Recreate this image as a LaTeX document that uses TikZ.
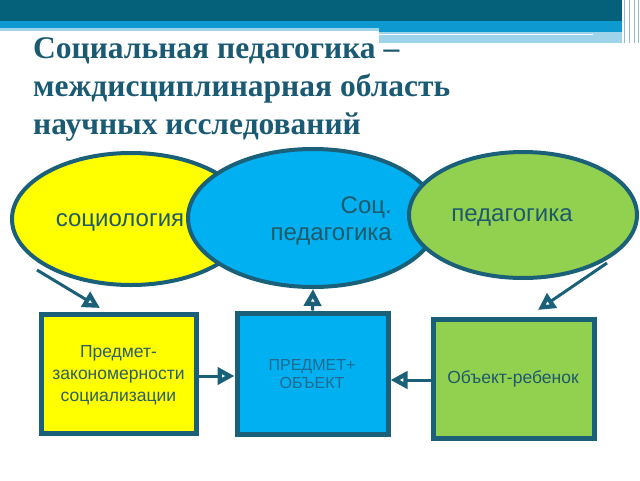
\documentclass[tikz,border=0pt]{standalone}
\usepackage{fontspec}
\setmainfont{Liberation Sans}
\newfontfamily\titlefont{Liberation Serif}
\usetikzlibrary{shapes.geometric,arrows.meta}
\definecolor{dk}{HTML}{1B6079}
\definecolor{band}{HTML}{05607A}
\definecolor{bandblue}{HTML}{0E9AD0}
\definecolor{bandlight}{HTML}{9ED3EA}
\definecolor{ttl}{HTML}{1B5A73}
\definecolor{yel}{HTML}{FFFF00}
\definecolor{blu}{HTML}{00B0F0}
\definecolor{grn}{HTML}{92D050}
\definecolor{etext}{HTML}{1F5A6B}
\definecolor{btext}{HTML}{2D5F62}
\definecolor{bbtext}{HTML}{1F6A90}
\tikzset{
  oval/.style={ellipse, draw=dk, line width=4pt, inner sep=0pt},
  box/.style={draw=dk, line width=5pt, inner sep=0pt},
  otext/.style={text=etext, font=\fontsize{24}{27}\selectfont, inner sep=0pt},
  boxtext/.style={font=\fontsize{17.5}{22}\selectfont, align=center, inner sep=0pt},
  conn/.style={draw=dk, line width=3pt, -{Triangle[open,length=17pt,width=17pt,line width=5pt]}},
  ttlline/.style={anchor=base west, text=ttl, font=\titlefont\bfseries\fontsize{31.5}{36}\selectfont, inner sep=0pt}
}
\begin{document}
\begin{tikzpicture}[x=1pt,y=-1pt]
\useasboundingbox (0,0) rectangle (640,480);
% header bands
\fill[band] (0,0) rectangle (622,21);
\fill[bandblue] (0,21) rectangle (379,28);
\fill[bandblue] (379,21) rectangle (622,32);
\fill[bandlight] (0,28) rectangle (379,31);
\fill[bandlight] (379,32) rectangle (622,43);
\draw[white, line width=1.5pt] (379,34.5) -- (593,34.5);
\foreach \xx in {624,629,634,638} \draw[bandlight!70!gray, line width=1pt] (\xx,0) -- (\xx,43);
% title
\node[ttlline] (t1) at (33,58) {Социальная педагогика –};
\node[ttlline] (t2) at (33,96) {междисциплинарная область};
\node[ttlline] (t3) at (33,134) {научных исследований};
% ellipses
\node[oval, fill=yel, minimum width=238pt, minimum height=132pt] (soc) at (131,219) {};
\node[oval, fill=blu, minimum width=250pt, minimum height=138pt] (sp) at (313,218) {};
\node[oval, fill=grn, minimum width=228pt, minimum height=126pt] (ped) at (523,215) {};
\node[otext] (socl) at (120,222) {социология};
\node[otext, anchor=east] (spl1) at (392,208) {Соц.};
\node[otext, anchor=east] (spl2) at (392,236) {педагогика};
\node[otext] (pedl) at (512,217) {педагогика};
% boxes
\node[box, fill=yel, minimum width=155pt, minimum height=119pt] (b1) at (118.5,373.5) {};
\node[boxtext, text=btext] (b1l) at (118.5,375) {Предмет-\\закономерности\\социализации};
\node[box, fill=blu, minimum width=151pt, minimum height=121pt] (b2) at (312.5,373.5) {};
\node[boxtext, text=bbtext, font=\fontsize{16}{18}\selectfont] (b2l) at (312,374) {ПРЕДМЕТ+\\ОБЪЕКТ};
\node[box, fill=grn, minimum width=161pt, minimum height=119pt] (b3) at (513.5,378.5) {};
\node[boxtext, text=etext] (b3l) at (513,379) {Объект-ребенок};
% connectors
\coordinate (a1s) at (37,270);
\coordinate (a1e) at (100,308);
\coordinate (a3s) at (607,263);
\coordinate (a3e) at (538,310);
\draw[conn] (a1s) -- (a1e);
\draw[conn] (a3s) -- (a3e);
\draw[conn] (b2.north) -- (sp.south);
\draw[conn] (b1.east |- 0,376) -- (b2.west |- 0,376);
\draw[conn] (b3.west |- 0,380) -- (b2.east |- 0,380);
\end{tikzpicture}
\end{document}
